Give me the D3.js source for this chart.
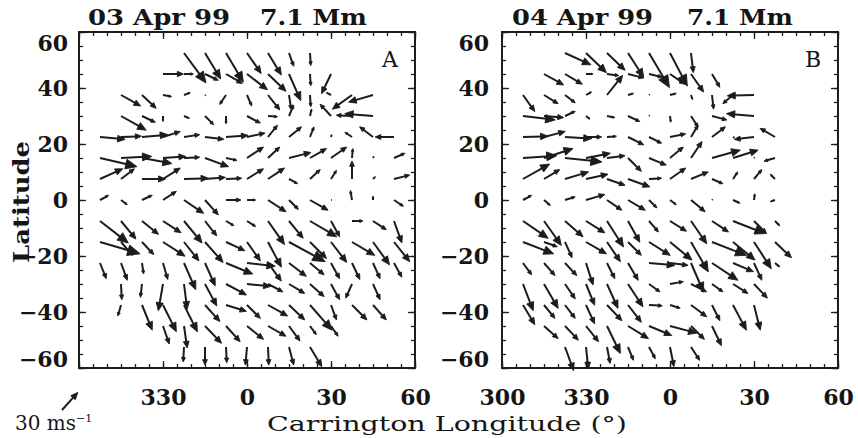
<!DOCTYPE html>
<html lang="en">
<head>
<meta charset="UTF-8">
<title>Flow maps 7.1 Mm</title>
<script src="https://d3js.org/d3.v7.min.js"></script>
<style>
    body { margin: 0; background: #fff; }
    text { font-family: "DejaVu Serif", serif; fill: #151515; }
    .tick text { font-weight: bold; }
</style>
</head>
<body>
<svg id="chart" width="858" height="438"></svg>

<script>
// grid of the ring-diagram fits (tails of the arrows)
var lons = [307.5, 315, 322.5, 330, 337.5, 345, 352.5, 360, 367.5, 375, 382.5, 390, 397.5, 405, 412.5];
var lats = [52.5, 45, 37.5, 30, 22.5, 15, 7.5, 0, -7.5, -15, -22.5, -30, -37.5, -45, -52.5];

var xTicksA = [330, 360, 390, 420];
var xTicksB = [300, 330, 360, 390, 420];
var yTicks = [-60, -40, -20, 0, 20, 40, 60];

var titleDates = ["03 Apr 99", "04 Apr 99"];
var depthLabel = "7.1 Mm";
var panelLetters = ["A", "B"];
var refSpeed = 30; // m/s

var _ = null;
// 03 Apr 99: east-west (u) and north-south (v) velocities, m/s, one row per latitude
var uA = [
    [_, _, _, _, 28, 20, 22, 18, 17, 6, 1, _, _, _, _],
    [_, _, _, 26, 12, 17, 21, 26, 23, 15, 1, -12, _, _, _],
    [_, 25, 18, 11, 8, 1, -8, 6, 15, 3, 1, -6, -25, -31, _],
    [_, 32, 17, 0, 7, 11, 0, 17, 12, 6, 2, -14, -20, -36, _],
    [32, 26, 33, 22, 20, 24, 28, 23, 12, 16, 5, 1, -9, -17, -24],
    [47, 39, 38, 29, 20, 30, 14, 21, 15, 28, 21, 20, 1, 1, 14],
    [29, 17, 30, 22, 31, 26, 20, 21, 21, 11, 13, 7, 0, 3, 20],
    [11, 8, 13, 17, 25, 17, 19, 11, 23, 12, 23, 1, -2, 0, 12],
    [36, 19, 21, 23, 23, 15, 10, 11, 21, 18, 34, 11, 14, 17, 10],
    [51, 15, 15, 28, 19, 23, 24, 17, 17, 46, 21, 20, 29, 21, 20],
    [8, 8, 2, 6, 15, 13, 34, 36, 17, 22, 18, 11, 10, 9, 10],
    [_, 1, -2, -6, 4, 15, 26, 30, 19, 20, 18, 11, -8, 9, _],
    [_, -4, 13, 17, 17, 19, 26, 17, 25, 20, 28, 7, 19, 17, _],
    [_, _, _, 8, 4, 21, 18, 21, 23, 14, 8, 9, _, _, _],
    [_, _, _, _, -1, 0, 1, -2, 1, 6, 15, _, _, _, _]
];
var vA = [
    [_, _, _, _, -38, -33, -37, -26, -28, -17, -16, _, _, _, _],
    [_, _, _, 0, 0, -8, -12, -20, -22, -34, -15, -25, _, _, _],
    [_, -14, -17, -2, 3, -1, -12, -14, -19, -19, -15, 3, -18, -9, _],
    [_, -18, -8, -7, -3, -11, -10, -9, -1, 14, 9, 15, 1, 3, _],
    [-3, 1, 3, 7, 3, -3, 2, 5, 15, 13, 13, 3, 6, 13, 0],
    [-11, 2, -7, 2, 1, -11, -3, 14, 14, 7, 12, 14, 12, 2, 6],
    [13, 13, 0, 14, 1, 2, 1, 13, 14, -6, 12, 11, 23, 3, 5],
    [6, -6, 6, 11, -17, -19, 0, 0, -15, -12, -13, 0, 12, 5, -8],
    [-28, -23, -17, -15, -28, -19, -6, -7, -30, -22, -20, -20, 0, -11, -28],
    [-15, -17, -16, -18, -24, -26, -11, -24, -32, -25, -21, -26, -17, -29, -25],
    [-20, -22, -14, -21, -34, -29, -14, -4, -23, -17, -15, -20, -21, -20, -18],
    [_, -20, -17, -34, -32, -28, -14, -3, -10, -12, -16, -20, -18, -20, _],
    [_, -14, -32, -34, -34, -21, -8, -17, -14, -19, -32, -19, -19, -19, _],
    [_, _, _, -23, -28, -22, -20, -17, -13, -19, -11, -13, _, _, _],
    [_, _, _, _, -19, -23, -20, -23, -23, -23, -25, _, _, _, _]
];

// 04 Apr 99
var uB = [
    [_, _, 33, 26, 23, 20, 26, 22, 3, _, _, _, _, _, _],
    [_, 25, 22, 9, 15, 20, 17, 19, 16, 10, _, _, _, _, _],
    [15, 18, 13, 7, 20, 7, 1, 8, 2, 2, -13, -34, _, _, _],
    [41, 25, 13, 5, 10, 15, 1, 1, 9, 19, 2, -35, _, _, _],
    [32, 27, 34, 20, 12, 20, 16, 20, 9, 17, 2, -25, -19, _, _],
    [43, 37, 47, 31, 23, 17, 22, 17, 14, 36, 32, 1, -14, _, _],
    [34, 20, 30, 28, 23, 28, 16, 20, 22, 14, 6, 10, -6, _, _],
    [11, 8, 13, 24, 19, 22, 10, 8, 18, 1, 9, 1, -6, _, _],
    [32, 22, 23, 24, 21, 15, 12, 21, 20, 21, 41, 16, 6, _, _],
    [39, 17, 9, 26, 17, 17, 27, 28, 22, 44, 28, 22, 21, _, _],
    [11, 14, 15, 9, 10, 13, 33, 23, 16, 33, 26, 10, 6, _, _],
    [13, 18, 13, 11, 14, 19, 14, 17, 20, 14, 19, 17, _, _, _],
    [15, 14, 13, 11, 19, 17, 17, 13, 20, 10, 17, 8, _, _, _],
    [_, 18, 17, 16, 17, 26, 29, 34, 17, 12, _, _, _, _, _],
    [_, _, 11, 3, 4, 7, 8, 5, 11, _, _, _, _, _, _]
];
var vB = [
    [_, _, -15, -25, -22, -31, -44, -42, -25, _, _, _, _, _, _],
    [_, -14, -13, 0, -2, -5, -4, -13, -23, -17, _, _, _, _, _],
    [-21, -11, -10, 4, 25, 2, 1, 2, -6, -18, -11, -1, _, _, _],
    [-5, -2, 6, -4, -2, -7, 1, -8, -14, -5, 2, 3, _, _, _],
    [1, 7, -2, 0, 1, -10, -8, 4, 15, 13, -1, -3, 11, _, _],
    [3, 12, -5, 6, 3, -17, -9, 14, 21, 10, 10, 1, -4, _, _],
    [19, 12, 9, 6, -8, -10, 1, 14, 9, -6, 9, 12, 6, _, _],
    [6, -7, 4, 7, -13, -13, -10, -6, -15, 1, -4, 8, -2, _, _],
    [-22, -31, -20, -15, -33, -27, -14, -13, -29, -14, -16, -16, -6, _, _],
    [-15, -6, -20, -15, -25, -17, -17, -23, -38, -17, -23, -34, -20, _, _],
    [-15, -16, -16, -28, -20, -22, -3, -3, -37, -22, -11, -22, -5, _, _],
    [-34, -31, -19, -27, -31, -29, -10, 3, -10, -10, -12, -18, _, _, _],
    [-25, -17, -17, -24, -20, -22, -1, -4, -15, -20, -32, -32, _, _, _],
    [_, -16, -18, -20, -35, -16, -12, -9, -17, -25, _, _, _, _, _],
    [_, _, -30, -28, -21, -17, -15, -25, -17, _, _, _, _, _, _]
];

var svg = d3.select("#chart");
var ink = "#1c1c1c";

// arrow length: 30 m/s ~ 23.6 px
var speed = d3.scaleLinear().domain([0, refSpeed]).range([0, 23.6]);

function drawArrow(g, x0, y0, u, v) {
    var dx = speed(u), dy = -speed(v);
    var L = Math.sqrt(dx * dx + dy * dy);
    if (L < 0.5) {
        g.append("circle").attr("cx", x0).attr("cy", y0).attr("r", 1).attr("fill", ink);
        return;
    }
    var x1 = x0 + dx, y1 = y0 + dy;
    var ux = dx / L, uy = dy / L;
    var hl = 0.3 * L, hw = 0.13 * L;
    var bx = x1 - hl * ux, by = y1 - hl * uy;
    g.append("line")
        .attr("x1", x0).attr("y1", y0).attr("x2", bx + 0.3 * hl * ux).attr("y2", by + 0.3 * hl * uy)
        .attr("stroke", ink).attr("stroke-width", 2);
    g.append("path")
        .attr("d", "M" + x1 + "," + y1 +
            "L" + (bx - hw * uy) + "," + (by + hw * ux) +
            "L" + (bx + hw * uy) + "," + (by - hw * ux) + "Z")
        .attr("fill", ink).attr("stroke", ink).attr("stroke-width", 0.9)
        .attr("stroke-linejoin", "round");
}

function lonLabel(d) { return d >= 360 ? String(d - 360) : String(d); }
function latLabel(d) { return d < 0 ? "\u2212" + (-d) : String(d); }

var panels = [
    {left: 79, u: uA, v: vA, xt: xTicksA, date: titleDates[0], letter: panelLetters[0],
     t1: [88, 142], t2: [260, 107], yPad: 11},
    {left: 502, u: uB, v: vB, xt: xTicksB, date: titleDates[1], letter: panelLetters[1],
     t1: [512, 141], t2: [687, 106], yPad: 13}
];

var plotTop = 32, plotBottom = 368, size = 336;

panels.forEach(function(p) {
    var x = d3.scaleLinear().domain([300, 420]).range([p.left, p.left + size]);
    var y = d3.scaleLinear().domain([-60, 60]).range([plotBottom, plotTop]);
    var g = svg.append("g");

    // minor + major ticks, pointing inward on all four sides
    var xMinor = d3.range(300, 421, 5), yMinor = d3.range(-60, 61, 5);
    var xMajor = d3.range(300, 421, 30), yMajor = d3.range(-60, 61, 20);
    [[xMinor, 4], [xMajor, 7]].forEach(function(t) {
        g.append("g").attr("transform", "translate(0," + plotBottom + ")")
            .call(d3.axisBottom(x).tickValues(t[0]).tickSize(-t[1]).tickSizeOuter(0).tickFormat(""));
        g.append("g").attr("transform", "translate(0," + plotTop + ")")
            .call(d3.axisTop(x).tickValues(t[0]).tickSize(-t[1]).tickSizeOuter(0).tickFormat(""));
    });
    [[yMinor, 4], [yMajor, 7]].forEach(function(t) {
        g.append("g").attr("transform", "translate(" + p.left + ",0)")
            .call(d3.axisLeft(y).tickValues(t[0]).tickSize(-t[1]).tickSizeOuter(0).tickFormat(""));
        g.append("g").attr("transform", "translate(" + (p.left + size) + ",0)")
            .call(d3.axisRight(y).tickValues(t[0]).tickSize(-t[1]).tickSizeOuter(0).tickFormat(""));
    });
    g.selectAll(".domain").remove();
    g.selectAll(".tick line").attr("stroke", ink).attr("stroke-width", 1.3);

    // tick labels
    var xa = g.append("g").attr("transform", "translate(0," + plotBottom + ")")
        .call(d3.axisBottom(x).tickValues(p.xt).tickSize(0).tickPadding(21).tickFormat(lonLabel));
    var ya = g.append("g").attr("transform", "translate(" + p.left + ",0)")
        .call(d3.axisLeft(y).tickValues(yTicks).tickSize(0).tickPadding(p.yPad).tickFormat(latLabel));
    [xa, ya].forEach(function(a) {
        a.select(".domain").remove();
        a.attr("font-family", null).attr("font-size", 22);
        a.selectAll("text").attr("fill", "#151515");
    });
    ya.selectAll("text").attr("y", function(d) { return d === 60 ? 11 : d === -60 ? -9 : 0; });

    // frame
    g.append("rect").attr("x", p.left).attr("y", plotTop).attr("width", size).attr("height", plotBottom - plotTop)
        .attr("fill", "none").attr("stroke", ink).attr("stroke-width", 2);

    // vectors
    var vg = g.append("g");
    lats.forEach(function(lat, j) {
        lons.forEach(function(lon, k) {
            var u = p.u[j][k], v = p.v[j][k];
            if (u === null || v === null) return;
            drawArrow(vg, x(lon), y(lat), u, v);
        });
    });

    // titles
    g.append("text").attr("x", p.t1[0]).attr("y", 25).attr("font-size", 22).attr("font-weight", "bold")
        .attr("textLength", p.t1[1]).attr("lengthAdjust", "spacingAndGlyphs").text(p.date);
    g.append("text").attr("x", p.t2[0]).attr("y", 25).attr("font-size", 22).attr("font-weight", "bold")
        .attr("textLength", p.t2[1]).attr("lengthAdjust", "spacingAndGlyphs").text(depthLabel);
    g.append("text").attr("x", p.left + size - 25).attr("y", 67).attr("text-anchor", "middle")
        .attr("font-size", 22).text(p.letter);
});

// axis titles
svg.append("text").attr("transform", "translate(29,202) rotate(-90)").attr("text-anchor", "middle")
    .attr("font-size", 23).attr("font-weight", "bold")
    .attr("textLength", 122).attr("lengthAdjust", "spacingAndGlyphs").text("Latitude");
svg.append("text").attr("x", 267).attr("y", 431).attr("font-size", 21)
    .attr("textLength", 360).attr("lengthAdjust", "spacingAndGlyphs").text("Carrington Longitude (\u00b0)");

// reference arrow
var ref = svg.append("g");
drawArrow(ref, 62, 410, refSpeed * Math.cos(48 * Math.PI / 180), refSpeed * Math.sin(48 * Math.PI / 180));
var rt = svg.append("text").attr("x", 15).attr("y", 430).attr("font-size", 20);
rt.append("tspan").text(refSpeed + " ms");
rt.append("tspan").attr("dy", -8).attr("font-size", 11).text("\u22121");
</script>
</body>
</html>
